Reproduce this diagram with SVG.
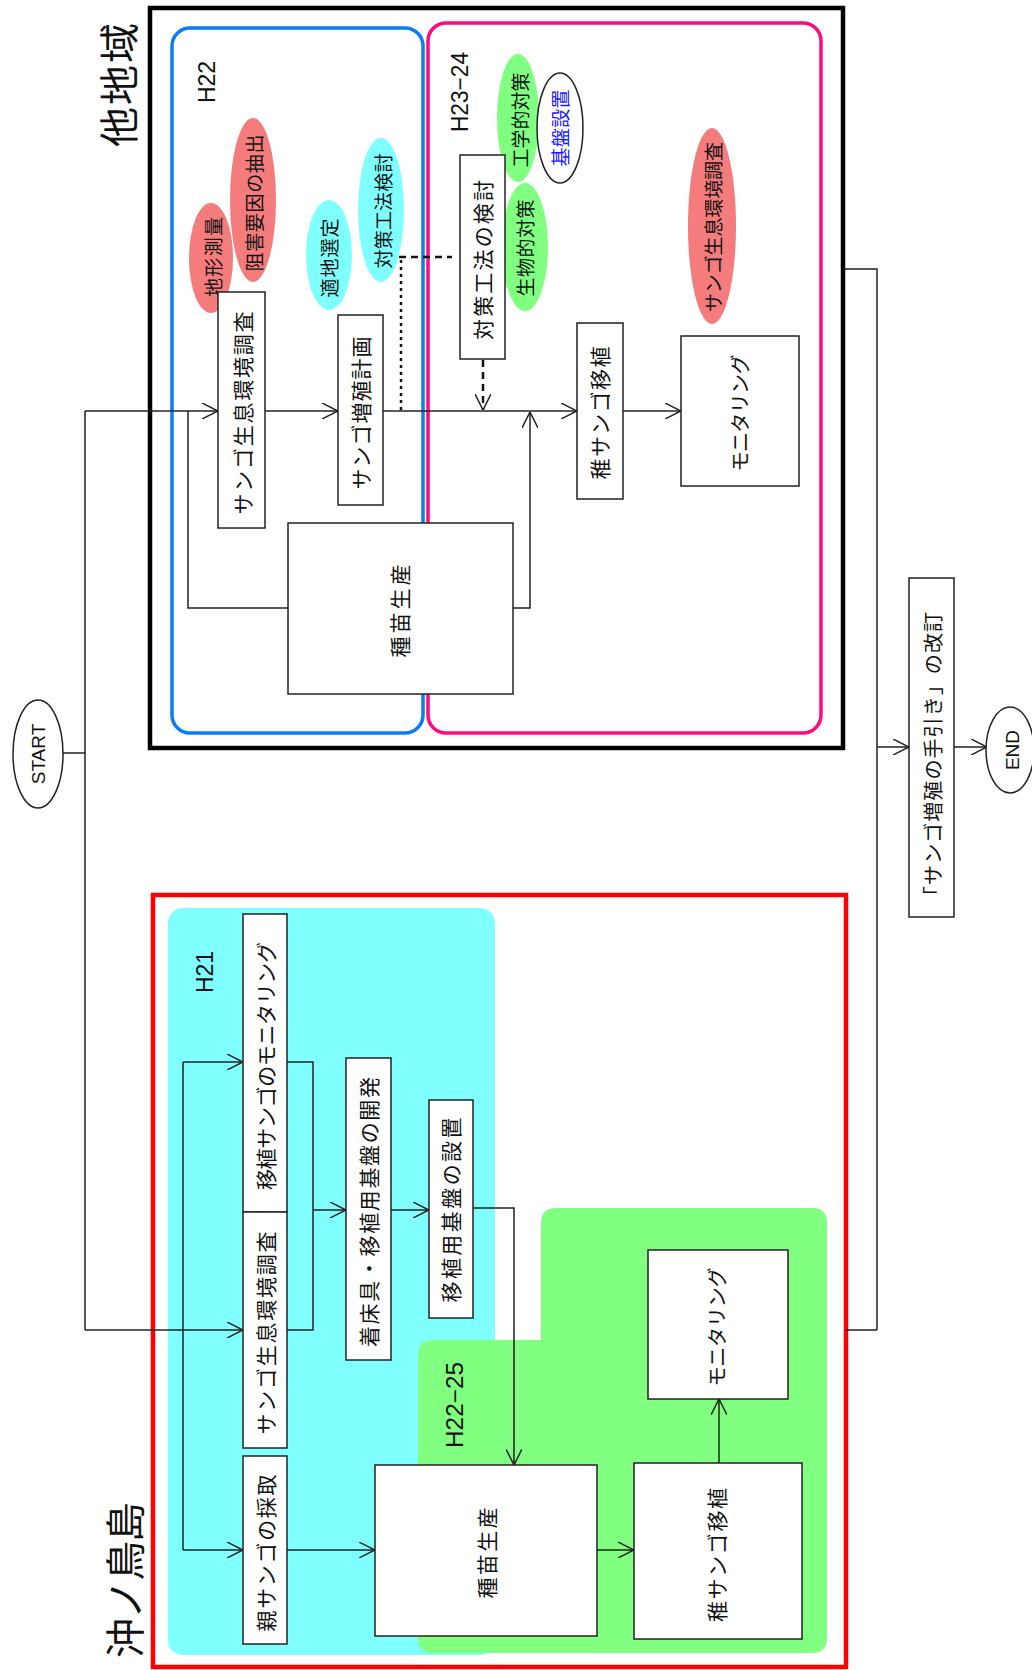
<svg xmlns="http://www.w3.org/2000/svg" width="1032" height="1670" viewBox="0 0 1032 1670">
<defs>
<style>
.t{font-family:"Noto Sans CJK JP","Noto Sans",sans-serif;fill:#111;text-anchor:middle;dominant-baseline:central}
.l{font-family:"Liberation Sans",Arial,sans-serif;fill:#111;text-anchor:middle;dominant-baseline:central}
.box{fill:#fff;stroke:#222;stroke-width:1.5}
.c{fill:none;stroke:#222;stroke-width:1.5}
.salmon{fill:#f47c7c}
.cyan{fill:#80ffff}
.green{fill:#80ff80}
</style>
<marker id="a" viewBox="0 0 16 16" refX="16" refY="8" markerWidth="16" markerHeight="16" markerUnits="userSpaceOnUse" orient="auto">
<path d="M0,0 L16,8 L0,16" fill="none" stroke="#222" stroke-width="1.5"/>
</marker>
</defs>
<rect width="1032" height="1670" fill="#fff"/>

<!-- frames / areas -->
<g id="area-other">
<rect x="150" y="8" width="693" height="740" fill="none" stroke="#000" stroke-width="4.5"/>
<rect x="172" y="28" width="251" height="705" rx="18" fill="none" stroke="#0a7cf5" stroke-width="3.5"/>
<rect x="428" y="23" width="393" height="710" rx="18" fill="none" stroke="#ff0a80" stroke-width="3.5"/>
<text class="t" font-size="40" transform="rotate(-90 117 85)" x="117" y="85" textLength="124" lengthAdjust="spacing">他地域</text>
<text class="l" font-size="23" transform="rotate(-90 207 82)" x="207" y="82">H22</text>
<text class="l" font-size="23" transform="rotate(-90 460 92)" x="460" y="92" textLength="80" lengthAdjust="spacingAndGlyphs">H23−24</text>
</g>
<g id="area-okinotori">
<rect x="153" y="895" width="693" height="772" fill="none" stroke="#ff0000" stroke-width="4.5"/>
<rect x="168" y="908" width="327" height="747" rx="15" class="cyan"/>
<path class="green" d="M541,1223 Q541,1208 556,1208 H812 Q827,1208 827,1223 V1638 Q827,1653 812,1653 H433 Q418,1653 418,1638 V1355 Q418,1340 433,1340 H541 Z"/>
<text class="t" font-size="40" transform="rotate(-90 123 1580)" x="123" y="1580" textLength="156" lengthAdjust="spacing">沖ノ鳥島</text>
<text class="l" font-size="23" transform="rotate(-90 205 972)" x="205" y="972">H21</text>
<text class="l" font-size="23" transform="rotate(-90 455 1405)" x="455" y="1405" textLength="86" lengthAdjust="spacingAndGlyphs">H22−25</text>
</g>

<!-- connectors -->
<g id="connectors">
<path class="c" d="M63,753 H85 M85,411 V1330"/>
<path class="c" d="M85,411 H218" marker-end="url(#a)"/>
<path class="c" d="M288,608 H188 V411"/>
<path class="c" d="M265,411 H338" marker-end="url(#a)"/>
<path class="c" d="M383,411 H577" marker-end="url(#a)"/>
<path class="c" d="M513,608 H530 V412" marker-end="url(#a)"/>
<path class="c" d="M623,411 H681" marker-end="url(#a)"/>
<path fill="none" stroke="#111" stroke-width="2.5" stroke-dasharray="3,4" d="M401,410 V260"/>
<path fill="none" stroke="#111" stroke-width="2.5" stroke-dasharray="7,5" d="M399,257 H452"/>
<path fill="none" stroke="#111" stroke-width="2.5" stroke-dasharray="7,5" d="M483,360 V410" marker-end="url(#a)"/>
<path class="c" d="M843,269 H877 V1330 M846,1330 H877"/>
<path class="c" d="M877,747 H909" marker-end="url(#a)"/>
<path class="c" d="M954,747 H987" marker-end="url(#a)"/>
<path class="c" d="M85,1330 H243" marker-end="url(#a)"/>
<path class="c" d="M183,1062 V1550"/>
<path class="c" d="M183,1062 H243" marker-end="url(#a)"/>
<path class="c" d="M183,1550 H243" marker-end="url(#a)"/>
<path class="c" d="M287,1062 H313 V1330 H287"/>
<path class="c" d="M313,1210 H346" marker-end="url(#a)"/>
<path class="c" d="M391,1210 H429" marker-end="url(#a)"/>
<path class="c" d="M473,1208 H514 V1465" marker-end="url(#a)"/>
<path class="c" d="M287,1550 H375" marker-end="url(#a)"/>
<path class="c" d="M597,1550 H634" marker-end="url(#a)"/>
<path class="c" d="M719,1463 V1399" marker-end="url(#a)"/>
</g>

<!-- terminals -->
<g id="start">
<ellipse cx="38" cy="754" rx="25" ry="54" fill="#fff" stroke="#222" stroke-width="1.5"/>
<text class="l" font-size="19" transform="rotate(-90 38 754)" x="38" y="754">START</text>
</g>
<g id="end">
<ellipse cx="1010" cy="750" rx="24" ry="43" fill="#fff" stroke="#222" stroke-width="1.5"/>
<text class="l" font-size="19" transform="rotate(-90 1012 750)" x="1012" y="750">END</text>
</g>

<!-- other region nodes -->
<g id="o-chikei">
<ellipse cx="211" cy="258" rx="22" ry="55" class="salmon"/>
<text class="t" font-size="19" transform="rotate(-90 212 257)" x="212" y="257" textLength="80" lengthAdjust="spacing">地形測量</text>
</g>
<g id="o-sogai">
<ellipse cx="253" cy="200" rx="23" ry="82" class="salmon"/>
<text class="t" font-size="19" transform="rotate(-90 253 203)" x="253" y="203" textLength="137" lengthAdjust="spacing">阻害要因の抽出</text>
</g>
<g id="o-tekichi">
<ellipse cx="329" cy="255" rx="23" ry="55" class="cyan"/>
<text class="t" font-size="19" transform="rotate(-90 328 258)" x="328" y="258" textLength="79" lengthAdjust="spacing">適地選定</text>
</g>
<g id="o-taisaku-kento">
<ellipse cx="381" cy="210" rx="23" ry="72" class="cyan"/>
<text class="t" font-size="19" transform="rotate(-90 382 211)" x="382" y="211" textLength="115" lengthAdjust="spacing">対策工法検討</text>
</g>
<g id="o-kogaku">
<ellipse cx="518" cy="118" rx="21" ry="64" class="green"/>
<text class="t" font-size="19" transform="rotate(-90 519 120)" x="519" y="120" textLength="95" lengthAdjust="spacing">工学的対策</text>
</g>
<g id="o-seibutsu">
<ellipse cx="525" cy="247" rx="23" ry="64" class="green"/>
<text class="t" font-size="19" transform="rotate(-90 524 248)" x="524" y="248" textLength="97" lengthAdjust="spacing">生物的対策</text>
</g>
<g id="o-kiban">
<ellipse cx="560" cy="128" rx="23" ry="55" fill="#fff" stroke="#222" stroke-width="1.5"/>
<text class="t" font-size="19" fill="#1a1aff" style="fill:#1a1aff" transform="rotate(-90 559 128)" x="559" y="128" textLength="77" lengthAdjust="spacing">基盤設置</text>
</g>
<g id="o-chosa-ellipse">
<ellipse cx="712" cy="226" rx="24" ry="98" class="salmon"/>
<text class="t" font-size="19" transform="rotate(-90 712 227)" x="712" y="227" textLength="170" lengthAdjust="spacing">サンゴ生息環境調査</text>
</g>
<g id="o-taisaku-box">
<rect x="460" y="155" width="45" height="204" class="box"/>
<text class="t" font-size="21" transform="rotate(-90 482 260)" x="482" y="260" textLength="160" lengthAdjust="spacing">対策工法の検討</text>
</g>
<g id="o-chosa">
<rect x="218" y="292" width="47" height="236" class="box"/>
<text class="t" font-size="21" transform="rotate(-90 242 413)" x="242" y="413" textLength="203" lengthAdjust="spacing">サンゴ生息環境調査</text>
</g>
<g id="o-keikaku">
<rect x="338" y="315" width="45" height="190" class="box"/>
<text class="t" font-size="21" transform="rotate(-90 360 413)" x="360" y="413" textLength="153" lengthAdjust="spacing">サンゴ増殖計画</text>
</g>
<g id="o-shubyo">
<rect x="288" y="523" width="225" height="171" class="box"/>
<text class="t" font-size="21" transform="rotate(-90 399 611)" x="399" y="611" textLength="93" lengthAdjust="spacing">種苗生産</text>
</g>
<g id="o-ishoku">
<rect x="577" y="323" width="46" height="176" class="box"/>
<text class="t" font-size="21" transform="rotate(-90 599 413)" x="599" y="413" textLength="133" lengthAdjust="spacing">稚サンゴ移植</text>
</g>
<g id="o-monitoring">
<rect x="681" y="336" width="118" height="150" class="box"/>
<text class="t" font-size="20" transform="rotate(-90 739 413)" x="739" y="413" textLength="117" lengthAdjust="spacing">モニタリング</text>
</g>
<g id="tebiki">
<rect x="909" y="578" width="45" height="339" class="box"/>
<text class="t" font-size="20" transform="rotate(-90 932 759)" x="932" y="759" textLength="294" lengthAdjust="spacing">「サンゴ増殖の手引き」の改訂</text>
</g>

<!-- Okinotorishima nodes -->
<g id="k-monitoring-ishoku">
<rect x="243" y="914" width="44" height="298" class="box"/>
<text class="t" font-size="21" transform="rotate(-90 265 1066)" x="265" y="1066" textLength="248" lengthAdjust="spacing">移植サンゴのモニタリング</text>
</g>
<g id="k-chosa">
<rect x="243" y="1212" width="44" height="236" class="box"/>
<text class="t" font-size="21" transform="rotate(-90 265 1333)" x="265" y="1333" textLength="203" lengthAdjust="spacing">サンゴ生息環境調査</text>
</g>
<g id="k-oya">
<rect x="243" y="1456" width="44" height="188" class="box"/>
<text class="t" font-size="21" transform="rotate(-90 265 1553)" x="265" y="1553" textLength="157" lengthAdjust="spacing">親サンゴの採取</text>
</g>
<g id="k-kaihatsu">
<rect x="346" y="1058" width="45" height="302" class="box"/>
<text class="t" font-size="21" transform="rotate(-90 368 1212)" x="368" y="1212" textLength="270" lengthAdjust="spacing">着床具・移植用基盤の開発</text>
</g>
<g id="k-setchi">
<rect x="429" y="1100" width="44" height="218" class="box"/>
<text class="t" font-size="21" transform="rotate(-90 450 1210)" x="450" y="1210" textLength="185" lengthAdjust="spacing">移植用基盤の設置</text>
</g>
<g id="k-shubyo">
<rect x="375" y="1465" width="222" height="171" class="box"/>
<text class="t" font-size="21" transform="rotate(-90 486 1553)" x="486" y="1553" textLength="91" lengthAdjust="spacing">種苗生産</text>
</g>
<g id="k-ishoku">
<rect x="634" y="1463" width="168" height="176" class="box"/>
<text class="t" font-size="21" transform="rotate(-90 716 1555)" x="716" y="1555" textLength="134" lengthAdjust="spacing">稚サンゴ移植</text>
</g>
<g id="k-monitoring">
<rect x="648" y="1250" width="140" height="149" class="box"/>
<text class="t" font-size="20" transform="rotate(-90 716 1327)" x="716" y="1327" textLength="119" lengthAdjust="spacing">モニタリング</text>
</g>
</svg>
